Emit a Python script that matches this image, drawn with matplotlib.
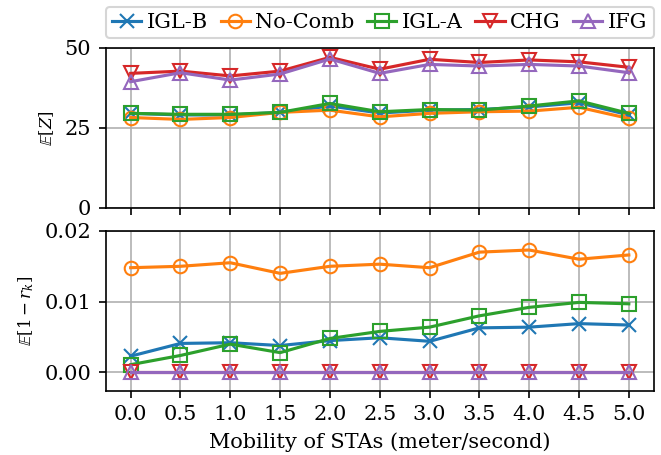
import numpy as np
import matplotlib
matplotlib.use('Agg')
import matplotlib.pyplot as plt

plt.rcParams['font.family'] = 'DejaVu Serif'
plt.rcParams['mathtext.fontset'] = 'dejavuserif'
plt.rcParams['font.size'] = 10

speeds = [0.0, 0.5, 1.0, 1.5, 2.0, 2.5, 3.0, 3.5, 4.0, 4.5, 5.0]
labels = ['IGL-B', 'No-Comb', 'IGL-A', 'CHG', 'IFG']
markers = ['x', 'o', 's', 'v', '^']
colors = ['tab:blue', 'tab:orange', 'tab:green', 'tab:red', 'tab:purple']

# E[Z]
z_iglb = [29.5, 29.0, 29.0, 29.8, 31.8, 29.6, 30.5, 30.7, 31.5, 32.8, 29.0]
z_nocomb = [28.2, 27.6, 28.2, 29.8, 30.5, 28.4, 29.5, 30.0, 30.2, 31.4, 27.9]
z_igla = [29.5, 29.2, 29.2, 29.8, 32.6, 30.0, 30.7, 30.5, 31.8, 33.4, 29.5]
z_chg = [42.0, 42.7, 41.2, 42.7, 47.0, 43.3, 46.4, 45.4, 46.2, 45.6, 43.9]
z_ifg = [39.4, 42.2, 39.9, 41.8, 46.5, 42.0, 44.8, 44.3, 44.8, 44.3, 42.2]

# E[1 - r_k]
r_iglb = [0.0023, 0.0041, 0.0042, 0.0038, 0.0045, 0.0049, 0.0044, 0.0063, 0.0064, 0.0069, 0.0067]
r_nocomb = [0.0148, 0.0150, 0.0155, 0.0140, 0.0150, 0.0153, 0.0148, 0.0170, 0.0173, 0.0160, 0.0166]
r_igla = [0.0011, 0.0024, 0.0040, 0.0028, 0.0048, 0.0058, 0.0064, 0.0080, 0.0092, 0.0099, 0.0097]
r_chg = [0.0] * 11
r_ifg = [0.0] * 11

z_all = [z_iglb, z_nocomb, z_igla, z_chg, z_ifg]
r_all = [r_iglb, r_nocomb, r_igla, r_chg, r_ifg]

fig, (ax1, ax2) = plt.subplots(2, 1, figsize=(661 / 150, 455 / 150), dpi=150, sharex=True)
fig.subplots_adjust(left=0.160, right=0.989, top=0.895, bottom=0.141, hspace=0.145)

for i in range(len(labels)):
    ax1.plot(speeds, z_all[i], marker=markers[i], color=colors[i], mfc='none',
             markersize=6.5, label=labels[i])
    ax2.plot(speeds, r_all[i], marker=markers[i], color=colors[i], mfc='none',
             markersize=6.5)

ax1.set_ylim(0, 50)
ax1.set_yticks([0, 25, 50])
ax1.set_ylabel(r'$\mathbb{E}[Z]$', fontsize=8)
ax1.grid(True)
ax1.tick_params(labelbottom=False)

ax2.set_ylim(-0.0026, 0.02)
ax2.set_yticks([0.0, 0.01, 0.02])
ax2.set_ylabel(r'$\mathbb{E}[1-r_k]$', fontsize=8)
ax2.set_xticks(speeds)
ax2.set_xlabel('Mobility of STAs (meter/second)')
ax2.grid(True)

fig.legend(loc='upper right', bbox_to_anchor=(0.989, 0.985), ncol=5, fontsize=10,
           handlelength=1.4, handletextpad=0.27, columnspacing=0.6,
           borderpad=0.3, borderaxespad=0.0)

fig.savefig('out.png', dpi=150)
